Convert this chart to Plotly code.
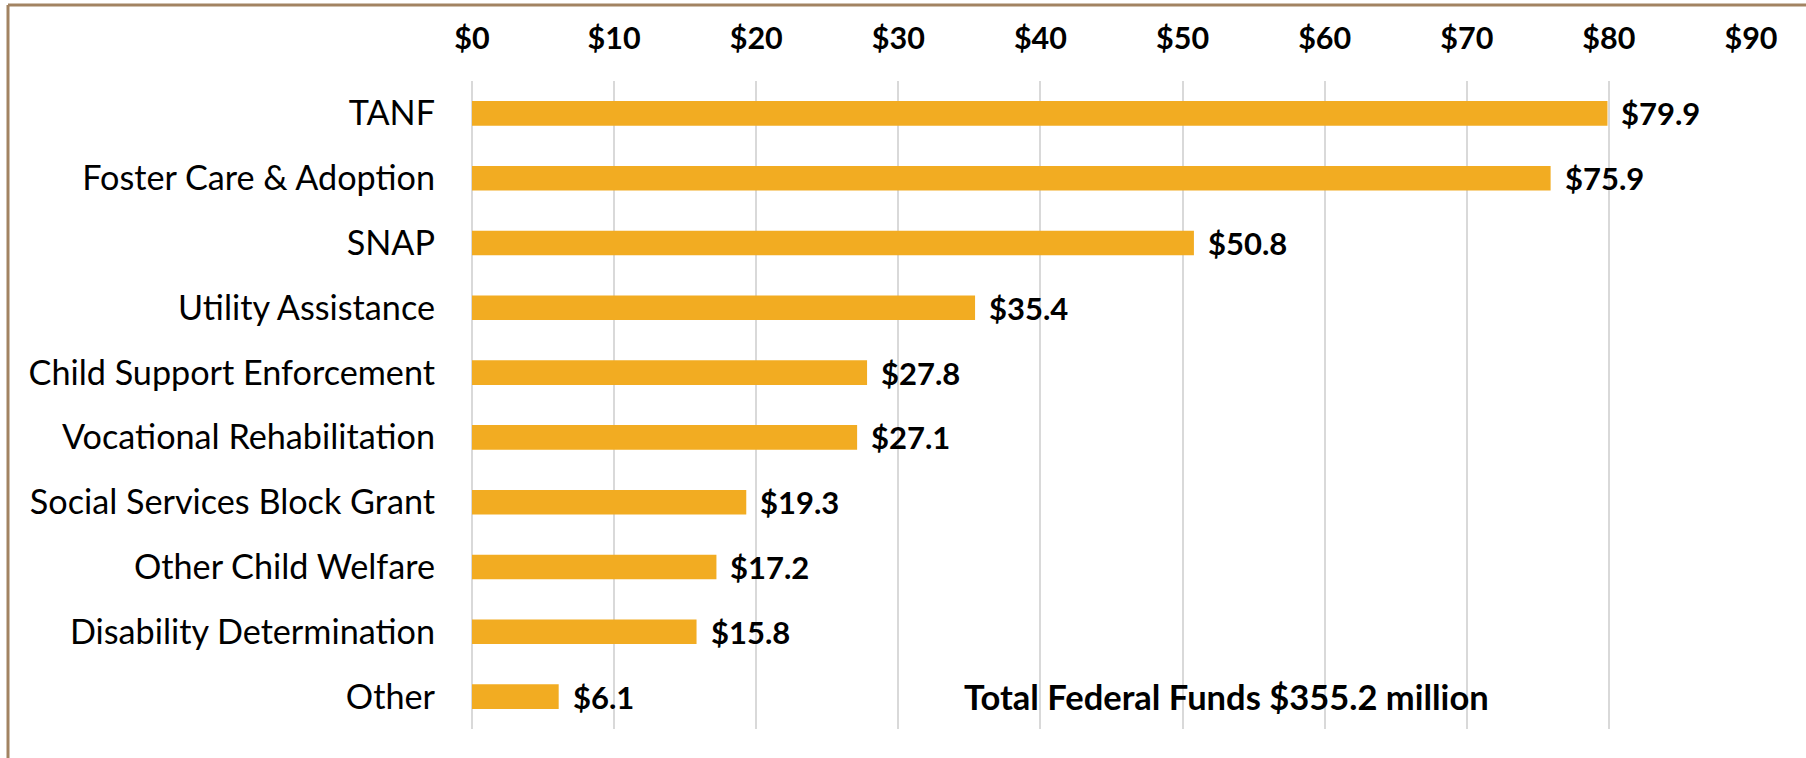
import plotly.graph_objects as go

categories = ["TANF", "Foster Care & Adoption", "SNAP", "Utility Assistance",
              "Child Support Enforcement", "Vocational Rehabilitation",
              "Social Services Block Grant", "Other Child Welfare",
              "Disability Determination", "Other"]
values = [79.9, 75.9, 50.8, 35.4, 27.8, 27.1, 19.3, 17.2, 15.8, 6.1]
tick_values = [0, 10, 20, 30, 40, 50, 60, 70, 80, 90]
tick_labels = ["$0", "$10", "$20", "$30", "$40", "$50", "$60", "$70", "$80", "$90"]
total_text = "Total Federal Funds $355.2 million"

FONT = "Lato, Carlito, 'Open Sans', sans-serif"
W, H = 1806, 758
L, R, T, B = 472, 55, 81, 29

fig = go.Figure()
fig.add_trace(go.Bar(
    x=values, y=categories, orientation="h",
    marker=dict(color="#F2AC22", line=dict(width=0)),
    width=0.38,
    hoverinfo="skip",
))

for c, v in zip(categories, values):
    fig.add_annotation(x=v, y=c, text=f"<b>${v:.1f}</b>", showarrow=False,
                       xanchor="left", xshift=12,
                       font=dict(family=FONT, size=31, color="black"))

fig.add_annotation(x=53.1, y=categories[-1], text=f"<b>{total_text}</b>",
                   showarrow=False, xanchor="center",
                   font=dict(family=FONT, size=34.5, color="black"))

pw = W - L - R
ph = H - T - B
# border: top and left lines
fig.add_shape(type="line", xref="paper", yref="paper",
              x0=(8 - L) / pw, x1=(W + 5 - L) / pw,
              y0=(H - B - 5) / ph, y1=(H - B - 5) / ph,
              line=dict(color="#A28362", width=3))
fig.add_shape(type="line", xref="paper", yref="paper",
              x0=(8 - L) / pw, x1=(8 - L) / pw,
              y0=(H - B - 5) / ph, y1=(-B - 5) / ph,
              line=dict(color="#A28362", width=3))

fig.update_layout(
    width=W, height=H,
    margin=dict(l=L, r=R, t=T, b=B, pad=0),
    paper_bgcolor="white", plot_bgcolor="white",
    showlegend=False,
    font=dict(family=FONT, color="black"),
    xaxis=dict(
        side="top", range=[0, 90], tickmode="array",
        tickvals=tick_values, ticktext=[f"<b>{t}</b>" for t in tick_labels],
        tickfont=dict(family=FONT, size=30.5, color="black"),
        showgrid=True, gridcolor="#D9D9D9", gridwidth=2,
        zeroline=True, zerolinecolor="#D9D9D9", zerolinewidth=2,
        showline=False, ticks="", ticklabelstandoff=25,
        fixedrange=True,
    ),
    yaxis=dict(
        type="category", categoryorder="array", categoryarray=categories,
        autorange="reversed",
        tickfont=dict(family=FONT, size=34.2, color="black"),
        showgrid=False, zeroline=False, showline=False, ticks="",
        ticklabelstandoff=36,
        fixedrange=True,
    ),
)

fig.write_html("out.html", config={"displayModeBar": False},
               post_script="document.body.style.margin='0';")
